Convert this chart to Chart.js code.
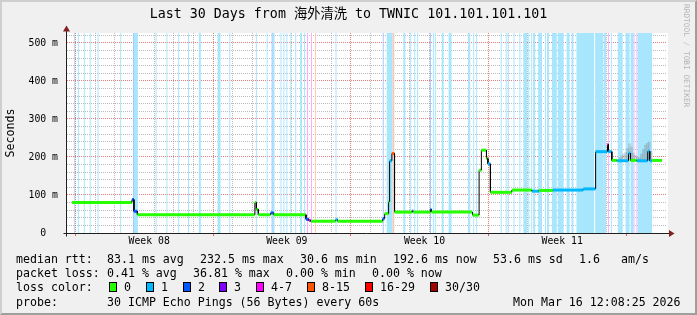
<!DOCTYPE html>
<html>
<head>
<meta charset="utf-8">
<script src="https://cdn.jsdelivr.net/npm/chart.js@4.4.1/dist/chart.umd.min.js"></script>
<style>
  body { margin: 0; background: #f0f0f0; }
  #wrap { position: relative; width: 697px; height: 315px; overflow: hidden; background: #f0f0f0; }
  #frame { position: absolute; left: 0; top: 0; width: 697px; height: 315px; box-sizing: border-box;
    border-top: 2px solid #cfcfcf; border-left: 2px solid #cfcfcf;
    border-right: 2px solid #9e9e9e; border-bottom: 2px solid #9e9e9e; pointer-events: none; }
  canvas { position: absolute; left: 0; top: 0; }
  .lg { position: absolute; font: 11.6px 'DejaVu Sans Mono', monospace; line-height: 14px; white-space: pre; color: #000; }
  .box { position: absolute; top: 282px; width: 8px; height: 10px; box-sizing: border-box; border: 1px solid #000; }
  #mark { position: absolute; left: 681px; top: 4px; writing-mode: vertical-rl; font: 7.8px 'DejaVu Sans Mono', monospace;
    color: #b4b4b4; line-height: 10px; white-space: pre; }
</style>
</head>
<body>
<div id="wrap">
  <canvas id="chart" width="697" height="315"></canvas>
  <div id="mark">RRDTOOL / TOBI OETIKER</div>

  <div class="lg" style="left:16px;top:252px">median rtt:</div>
  <div class="lg" style="left:107px;top:252px">83.1 ms avg</div>
  <div class="lg" style="left:200px;top:252px">232.5 ms max</div>
  <div class="lg" style="left:300px;top:252px">30.6 ms min</div>
  <div class="lg" style="left:393px;top:252px">192.6 ms now</div>
  <div class="lg" style="left:493px;top:252px">53.6 ms sd</div>
  <div class="lg" style="left:579px;top:252px">1.6</div>
  <div class="lg" style="left:621px;top:252px">am/s</div>

  <div class="lg" style="left:16px;top:266px">packet loss:</div>
  <div class="lg" style="left:107px;top:266px">0.41 % avg</div>
  <div class="lg" style="left:193px;top:266px">36.81 % max</div>
  <div class="lg" style="left:286px;top:266px">0.00 % min</div>
  <div class="lg" style="left:372px;top:266px">0.00 % now</div>

  <div class="lg" style="left:16px;top:280px">loss color:</div>
  <div id="lossLegend"></div>

  <div class="lg" style="left:16px;top:295px">probe:</div>
  <div class="lg" style="left:107px;top:295px">30 ICMP Echo Pings (56 Bytes) every 60s</div>
  <div class="lg" style="left:513px;top:295px">Mon Mar 16 12:08:25 2026</div>

  <div id="frame"></div>
</div>
<script>
// x axis is in days, 0 = start of Week 08 (first red grid line)
const weekLabels = ['Week 08', 'Week 09', 'Week 10', 'Week 11'];
const weekCenters = [3.5, 10.5, 17.5, 24.5];
const yTickValues = [0, 100, 200, 300, 400, 500];
const yTickLabels = ['0  ', '100 m', '200 m', '300 m', '400 m', '500 m'];

// loss classes (smokeping colours)
const lossNames  = ['0', '1', '2', '3', '4-7', '8-15', '16-29', '30/30'];
const lossColors = ['#26ff00', '#00b8ff', '#0059ff', '#7e00ff', '#ff00ff', '#ff5500', '#ff0000', '#a10000'];
const lossBands  = ['', '#a8e6fd', '#aac3ff', '#d3aaff', '#ffaaff', '#ffc6aa', '#ffaaaa', '#e0aaaa'];

// median rtt: step segments (start day, value in ms, loss class); last day closes the final step
const rttDays = [-0.425, 2.625, 2.725, 2.9, 8.875, 8.95, 9.05, 9.675, 9.825, 11.475,
  11.625, 11.725, 12.975, 13.075, 15.375, 15.475, 15.675, 15.725, 15.84, 15.975,
  16.875, 16.925, 17.8, 17.85, 19.94, 20.275, 20.39, 20.65, 20.725, 20.85,
  21.94, 22.975, 23.325, 24.025, 25.575, 26.2, 26.8, 26.85, 27.025, 27.3,
  27.875, 27.975, 28.3, 28.85, 28.95, 29.075, 29.575];
const rttMs = [80, 88, 57, 48, 80, 62, 48, 53, 48, 36,
  33, 31, 35, 31, 38, 51, 82, 190, 209, 55,
  58, 55, 62, 55, 47, 165, 218, 196, 182, 107,
  113, 110, 112, 113, 116, 214, 233, 214, 191, 190,
  210, 191, 190, 215, 190, 191];
const rttLoss = [0, 2, 2, 0, 0, 0, 0, 2, 0, 2,
  4, 0, 1, 0, 2, 0, 0, 1, 5, 0,
  2, 0, 2, 0, 0, 0, 0, 0, 1, 0,
  0, 1, 0, 1, 1, 1, 4, 1, 0, 1,
  1, 0, 1, 1, 1, 0];

// packet loss background bands (start day, end day, loss class)
const lossStart = [-0.425, -0.325, -0.125, 0.175, 0.475, 0.875, 2.025, 2.675, 2.725, 3.825,
  4.375, 4.975, 5.475, 6.025, 6.975, 7.575, 8.925, 9.475, 9.725, 9.775,
  10.175, 10.325, 10.475, 10.675, 10.925, 11.175, 11.375, 11.525, 11.725, 11.925,
  12.975, 15.375, 15.575, 15.875, 16.425, 16.775, 16.975, 17.125, 17.775, 17.925,
  18.025, 18.375, 18.725, 19.725, 19.975, 20.125, 21.375, 21.625, 21.725, 22.025,
  22.325, 22.525, 22.775, 22.925, 23.025, 23.275, 23.625, 23.725, 23.975, 24.275,
  24.725, 24.975, 25.225, 26.175, 26.625, 26.825, 26.975, 27.325, 27.725, 27.975,
  28.125, 28.275, 28.325];
const lossEnd = [-0.375, -0.275, -0.075, 0.225, 0.525, 0.925, 2.075, 2.725, 2.925, 3.875,
  4.425, 5.025, 5.525, 6.125, 7.125, 7.625, 8.975, 9.525, 9.775, 9.875,
  10.225, 10.375, 10.525, 10.725, 10.975, 11.275, 11.425, 11.575, 11.775, 11.975,
  13.025, 15.425, 15.875, 15.975, 16.525, 16.825, 17.025, 17.175, 17.825, 17.975,
  18.075, 18.475, 18.875, 19.825, 20.025, 20.175, 21.425, 21.675, 21.775, 22.075,
  22.375, 22.725, 22.825, 22.975, 23.125, 23.475, 23.675, 23.825, 24.225, 24.575,
  24.875, 25.075, 26.125, 26.575, 26.725, 26.875, 27.025, 27.575, 27.925, 28.125,
  28.175, 28.325, 29.075];
const lossClass = [1, 1, 1, 1, 1, 1, 1, 2, 1, 1,
  1, 1, 1, 1, 1, 1, 1, 1, 2, 1,
  1, 1, 1, 1, 1, 1, 1, 4, 4, 5,
  1, 2, 1, 5, 1, 1, 1, 1, 2, 1,
  1, 1, 1, 1, 1, 1, 1, 1, 1, 1,
  1, 1, 1, 1, 1, 1, 1, 1, 1, 1,
  1, 1, 1, 1, 1, 4, 1, 1, 1, 1,
  4, 4, 1];

// smoke (spread of the pings) at the end of the period
const smokeDays = [27.425, 27.525, 27.625, 27.725, 27.825, 27.925, 28.025, 28.125, 28.225,
  28.325, 28.425, 28.525, 28.625, 28.725, 28.825, 28.925, 29.025];
const smokeLow  = [192, 192, 192, 192, 192, 192, 192, 192, 192, 192, 192, 192, 192, 192, 192, 192, 192];
const smokeHigh = [198, 203, 208, 212, 222, 235, 226, 210, 204, 200, 198, 208, 220, 231, 236, 240, 215];

const TOP = 526.3;
const MONO = "'DejaVu Sans Mono', 'Noto Sans CJK SC', monospace";

// legend boxes
const boxLeft = [109, 146, 183, 219, 256, 307, 365, 430];
const lossLegend = document.getElementById('lossLegend');
lossNames.forEach((name, i) => {
    lossLegend.innerHTML += `<span class="box" style="left:${boxLeft[i]}px;background:${lossColors[i]}"></span>` +
        `<span class="lg" style="left:${boxLeft[i] + 15}px;top:280px">${name}</span>`;
});

// datasets
const rttPoints = [];
rttMs.forEach((v, i) => {
    rttPoints.push({ x: rttDays[i], y: v }, { x: rttDays[i + 1], y: v });
});

const bandSets = [1, 2, 4, 5].map(cls => {
    const pts = [];
    lossClass.forEach((c, i) => {
        if (c !== cls) return;
        pts.push({ x: lossStart[i], y: 0 }, { x: lossStart[i], y: TOP }, { x: lossEnd[i], y: TOP }, { x: lossEnd[i], y: 0 });
    });
    return {
        type: 'line', data: pts, fill: 'origin', backgroundColor: lossBands[cls],
        borderWidth: 0, pointRadius: 0, order: 3
    };
});

const tickVal = c => (c && c.tick) ? c.tick.value : NaN;

const canvasBg = {
    id: 'canvasBg',
    beforeDraw(chart) {
        const { ctx, chartArea: a } = chart;
        ctx.save();
        ctx.fillStyle = '#ffffff';
        ctx.fillRect(a.left, a.top, a.right - a.left + 1, a.bottom - a.top);
        ctx.restore();
    }
};

const axesArrows = {
    id: 'axesArrows',
    afterDatasetsDraw(chart) {
        const { ctx, chartArea: a } = chart;
        const x0 = a.left - 0.5, y0 = a.bottom + 0.5;
        ctx.save();
        ctx.strokeStyle = '#202020';
        ctx.lineWidth = 1;
        ctx.beginPath();
        ctx.moveTo(x0, y0 + 3); ctx.lineTo(x0, a.top - 2);
        ctx.moveTo(x0 - 3, y0); ctx.lineTo(a.right + 2, y0);
        ctx.stroke();
        ctx.fillStyle = '#802020';
        ctx.beginPath();
        ctx.moveTo(x0 - 3.5, a.top - 1.5); ctx.lineTo(x0 + 3.5, a.top - 1.5); ctx.lineTo(x0, a.top - 7.5);
        ctx.closePath(); ctx.fill();
        ctx.beginPath();
        ctx.moveTo(a.right + 2, y0 - 3.5); ctx.lineTo(a.right + 2, y0 + 3.5); ctx.lineTo(a.right + 7.5, y0);
        ctx.closePath(); ctx.fill();
        ctx.restore();
    }
};

const ctx = document.getElementById('chart').getContext('2d');
const chart = new Chart(ctx, {
    type: 'line',
    data: {
        datasets: [
            {
                label: 'median rtt',
                data: rttPoints,
                borderColor: lossColors[0],
                borderWidth: 3,
                pointRadius: 0,
                fill: false,
                order: 0,
                segment: {
                    borderColor: c => (c.p0DataIndex % 2 === 1) ? '#000000' : lossColors[rttLoss[Math.floor(c.p0DataIndex / 2)]],
                    borderWidth: c => (c.p0DataIndex % 2 === 1) ? 1 : 3
                }
            },
            {
                type: 'bar',
                label: 'smoke',
                data: smokeDays.map((d, i) => ({ x: d, y: [smokeLow[i], smokeHigh[i]] })),
                backgroundColor: 'rgba(90,90,90,0.22)',
                borderWidth: 0,
                barThickness: 2,
                grouped: false,
                order: 1
            },
            ...bandSets
        ]
    },
    options: {
        responsive: false,
        animation: false,
        layout: { padding: 0 },
        plugins: {
            legend: { display: false },
            tooltip: { enabled: false },
            title: {
                display: true,
                text: 'Last 30 Days from 海外清洗 to TWNIC 101.101.101.101',
                color: '#000',
                font: { family: MONO, size: 13.3, weight: 'normal', lineHeight: 1.2 },
                padding: { top: 6.8, bottom: 10.2 }
            }
        },
        scales: {
            x: {
                type: 'linear',
                min: -0.425,
                max: 29.575,
                afterBuildTicks: axis => {
                    const t = [];
                    for (let k = 0; k < 60; k++) t.push({ value: k * 0.5 });
                    axis.ticks = t;
                },
                afterFit: s => { s.height = 82; },
                border: { display: false, dash: [1, 1] },
                grid: {
                    color: c => {
                        const v = tickVal(c);
                        if (v % 7 === 0) return 'rgba(222,80,80,0.75)';
                        return Number.isInteger(v) ? 'rgba(143,143,143,0.6)' : 'rgba(0,0,0,0)';
                    },
                    tickColor: c => (tickVal(c) % 7 === 0) ? 'rgba(222,80,80,0.9)' : 'rgba(0,0,0,0)',
                    tickLength: 3,
                    lineWidth: 1
                },
                ticks: {
                    autoSkip: false,
                    maxRotation: 0,
                    minRotation: 0,
                    padding: 0,
                    color: '#000',
                    font: { family: MONO, size: 9.8 },
                    callback: v => {
                        const i = weekCenters.indexOf(v);
                        return i >= 0 ? weekLabels[i] : '';
                    }
                }
            },
            y: {
                min: 0,
                max: TOP,
                afterBuildTicks: axis => {
                    const t = [];
                    for (let k = 0; k <= 26; k++) t.push({ value: k * 20 });
                    axis.ticks = t;
                },
                afterFit: s => { s.width = 67; },
                border: { display: false, dash: [1, 1] },
                grid: {
                    color: c => (tickVal(c) % 100 === 0) ? 'rgba(222,80,80,0.75)' : 'rgba(143,143,143,0.6)',
                    drawTicks: false,
                    lineWidth: 1
                },
                ticks: {
                    autoSkip: false,
                    padding: 9,
                    color: '#000',
                    font: { family: MONO, size: 9.8 },
                    callback: v => {
                        const i = yTickValues.indexOf(v);
                        return i >= 0 ? yTickLabels[i] : '';
                    }
                },
                title: {
                    display: true,
                    text: 'Seconds',
                    color: '#000',
                    font: { family: MONO, size: 11.6, lineHeight: 1.2 },
                    padding: { top: 4, bottom: 0 }
                }
            },
            // empty right-hand strip that keeps room for the arrow and the watermark
            yRight: {
                position: 'right',
                min: 0,
                max: TOP,
                grid: { display: false },
                border: { display: false },
                ticks: { display: false },
                afterFit: s => { s.width = 30; }
            }
        }
    },
    plugins: [canvasBg, axesArrows]
});
</script>
</body>
</html>
